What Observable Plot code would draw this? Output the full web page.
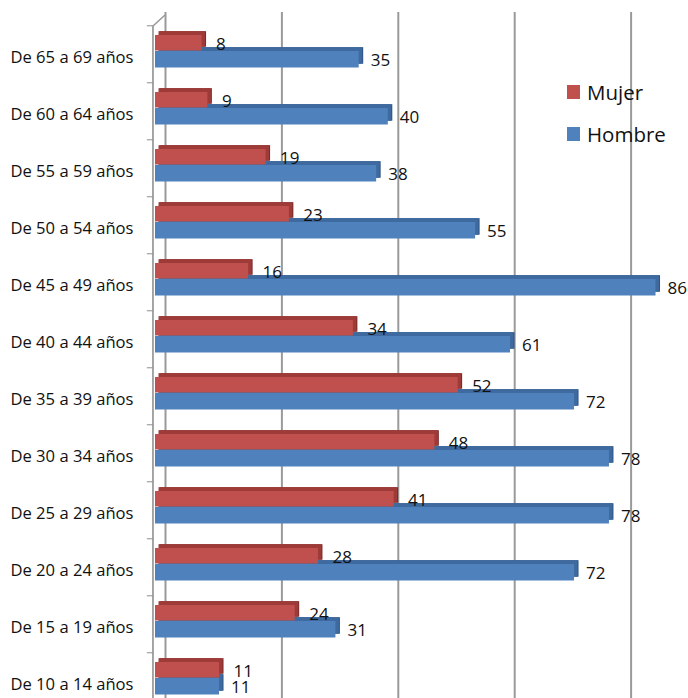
<!DOCTYPE html>
<html>
<head>
<meta charset="utf-8">
<script src="https://cdn.jsdelivr.net/npm/d3@7"></script>
<script src="https://cdn.jsdelivr.net/npm/@observablehq/plot@0.6"></script>
<style>
  html, body { margin: 0; padding: 0; background: #fff; overflow: hidden; }
  #wrap { position: relative; width: 688px; height: 698px; font-family: "Open Sans", sans-serif; }
  .leg { position: absolute; left: 567px; display: flex; align-items: center; font-size: 20.5px; color: #111; }
  .leg span.sw { display: inline-block; width: 13px; height: 14px; margin-right: 7px; }
</style>
</head>
<body>
<div id="wrap"></div>
<script>
const categories = ["De 65 a 69 años", "De 60 a 64 años", "De 55 a 59 años", "De 50 a 54 años",
  "De 45 a 49 años", "De 40 a 44 años", "De 35 a 39 años", "De 30 a 34 años",
  "De 25 a 29 años", "De 20 a 24 años", "De 15 a 19 años", "De 10 a 14 años"];
const mujer  = [8, 9, 19, 23, 16, 34, 52, 48, 41, 28, 24, 11];
const hombre = [35, 40, 38, 55, 86, 61, 72, 78, 78, 72, 31, 11];
const gridTicks = [20, 40, 60, 80];
const seriesNames = ["Mujer", "Hombre"];
const colors = {Mujer: "#C0504D", Hombre: "#4F81BD"};
const darkTop = {Mujer: "#9E3B39", Hombre: "#3E6A9F"};
const darkSide = {Mujer: "#7A2C2A", Hombre: "#2F5585"};

const rows = categories.map((c, i) => ({cat: c, mujer: mujer[i], hombre: hombre[i]}));

const BAND = 57.5;
const depthX = 4.5, depthY = -3.8;
const gridColor = "#9a9a9a";

const marks = [
  // back wall left edge and gridlines
  Plot.ruleX([0, ...gridTicks], {dx: 10, stroke: gridColor, strokeWidth: 2}),
  // front axis line (one thin bar segment per band)
  Plot.barX(rows, {x1: -0.5, x2: -0.2, y: "cat", fill: gridColor}),
  // ticks at band boundaries
  Plot.barX(rows, {x1: -1.4, x2: -0.2, y: "cat", fill: gridColor, insetTop: -0.8, insetBottom: BAND - 0.8}),
  // diagonal connecting front axis top with back wall
  (index, scales) => {
    try {
      const x0 = scales.x(0);
      const y0 = scales.y(categories[0]);
      const p = d3.create("svg:path")
        .attr("d", `M${x0 - 2},${y0}L${x0 + 10},${y0 - 11}`)
        .attr("stroke", gridColor).attr("stroke-width", 1.6).attr("fill", "none");
      return p.node();
    } catch (e) { return null; }
  },
  // Hombre bars (3D: depth then front)
  Plot.barX(rows, {x: "hombre", y: "cat", fill: darkSide.Hombre, insetTop: 25, insetBottom: BAND - 42, dx: depthX, dy: depthY}),
  Plot.barX(rows, {x: "hombre", y: "cat", fill: darkTop.Hombre, insetTop: 25, insetBottom: BAND - 42, dx: depthX - 1, dy: depthY}),
  Plot.barX(rows, {x: "hombre", y: "cat", fill: colors.Hombre, insetTop: 25, insetBottom: BAND - 42}),
  // Mujer bars
  Plot.barX(rows, {x: "mujer", y: "cat", fill: darkSide.Mujer, insetTop: 9, insetBottom: BAND - 25, dx: depthX, dy: depthY}),
  Plot.barX(rows, {x: "mujer", y: "cat", fill: darkTop.Mujer, insetTop: 9, insetBottom: BAND - 25, dx: depthX - 1, dy: depthY}),
  Plot.barX(rows, {x: "mujer", y: "cat", fill: colors.Mujer, insetTop: 9, insetBottom: BAND - 25}),
  // category labels
  Plot.text(rows, {x: 0, y: "cat", text: "cat", textAnchor: "end", dx: -22, dy: 2.5,
    fontSize: 16.6, fill: "#111", fontFamily: "Open Sans"}),
  // value labels
  Plot.text(rows, {x: "mujer", y: "cat", text: d => String(d.mujer), textAnchor: "start", dx: 14, dy: -10.8,
    fontSize: 17, fill: "#111", fontFamily: "Open Sans"}),
  Plot.text(rows, {x: "hombre", y: "cat", text: d => String(d.hombre), textAnchor: "start", dx: 11.5, dy: 5.8,
    fontSize: 17, fill: "#111", fontFamily: "Open Sans"})
];

const chart = Plot.plot({
  width: 688,
  height: 698,
  marginTop: 12,
  marginBottom: 0,
  marginLeft: 0,
  marginRight: 0,
  x: {domain: [0, 100], range: [155, 155 + 100 * 5.82], axis: null},
  y: {domain: categories, range: [23, 23 + categories.length * BAND], padding: 0, axis: null},
  style: {fontFamily: "Open Sans", background: "#fff", overflow: "hidden"},
  marks
});

const wrap = document.getElementById("wrap");
wrap.appendChild(chart);

const legendTops = [78, 120];
seriesNames.forEach((name, i) => {
  const d = document.createElement("div");
  d.className = "leg";
  d.style.top = legendTops[i] + "px";
  const sw = document.createElement("span");
  sw.className = "sw";
  sw.style.background = colors[name];
  d.appendChild(sw);
  d.appendChild(document.createTextNode(name));
  wrap.appendChild(d);
});
</script>
</body>
</html>
